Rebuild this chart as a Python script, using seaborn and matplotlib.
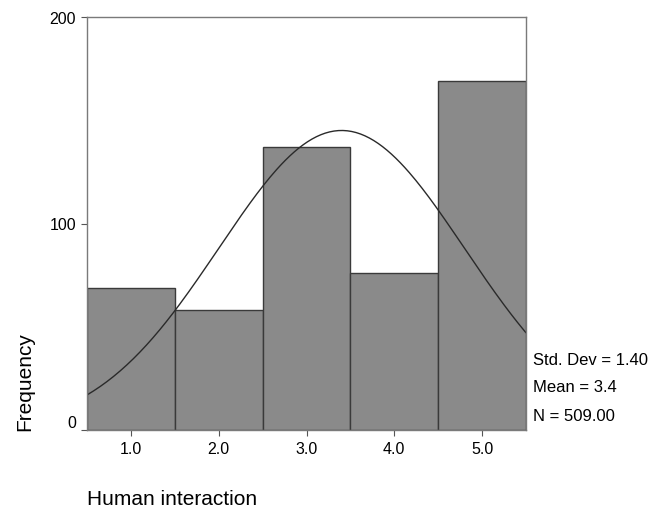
import numpy as np
import pandas as pd
import matplotlib
matplotlib.use("Agg")
import matplotlib.pyplot as plt
import seaborn as sns

# Response categories and their frequencies
categories = [1.0, 2.0, 3.0, 4.0, 5.0]
frequencies = [69, 58, 137, 76, 169]
tick_labels = ["1.0", "2.0", "3.0", "4.0", "5.0"]

# Summary statistics reported beside the chart
std_dev = 1.40
mean = 3.4
n_total = 509

sns.set_style("white")
plt.rcParams["font.family"] = ["Liberation Sans", "DejaVu Sans"]
plt.rcParams["text.color"] = "black"
plt.rcParams["xtick.color"] = "#555555"
plt.rcParams["ytick.color"] = "#555555"

df = pd.DataFrame({"value": categories, "count": frequencies})

fig = plt.figure(figsize=(6.53, 5.10), dpi=100)
ax = fig.add_axes([87 / 653, 79 / 510, 439 / 653, 413 / 510])

sns.histplot(data=df, x="value", weights="count", discrete=True,
             color="#8a8a8a", edgecolor="#3a3a3a", linewidth=1.0, alpha=1.0, ax=ax)

# Normal curve scaled to counts (bin width 1)
xs = np.linspace(0.5, 5.5, 200)
ys = n_total / (std_dev * np.sqrt(2 * np.pi)) * np.exp(-0.5 * ((xs - mean) / std_dev) ** 2)
sns.lineplot(x=xs, y=ys, color="#2a2a2a", linewidth=1.0, ax=ax)

ax.set_xlim(0.5, 5.5)
ax.set_ylim(0, 200)
ax.set_xticks(categories)
ax.set_xticklabels(tick_labels, fontsize=11.5, color="black")
ax.set_yticks([0, 100, 200])
ax.set_yticklabels(["0", "100", "200"], fontsize=11.5, color="black")
ax.get_yticklabels()[0].set_va("bottom")
ax.tick_params(axis="both", which="major", bottom=True, left=True, direction="out",
               length=4, width=0.8, colors="#555555", labelcolor="black", pad=4)
ax.set_xlabel("")
ax.set_ylabel("")

for side in ["left", "top", "right", "bottom"]:
    ax.spines[side].set_visible(True)
    ax.spines[side].set_color("#7a7a7a")
    ax.spines[side].set_linewidth(1.0)

fig.text(25 / 653, (510 - 382) / 510, "Frequency", rotation=90,
         ha="center", va="center", fontsize=15)
fig.text(87 / 653, (510 - 500) / 510, "Human interaction",
         ha="left", va="center", fontsize=15)

stats = [f"Std. Dev = {std_dev:.2f}", f"Mean = {mean:.1f}", f"N = {n_total:.2f}"]
for label, yp in zip(stats, [361, 388, 417]):
    fig.text(533 / 653, (510 - yp) / 510, label, ha="left", va="center", fontsize=12)

fig.savefig("out.png", dpi=100, facecolor="white")
